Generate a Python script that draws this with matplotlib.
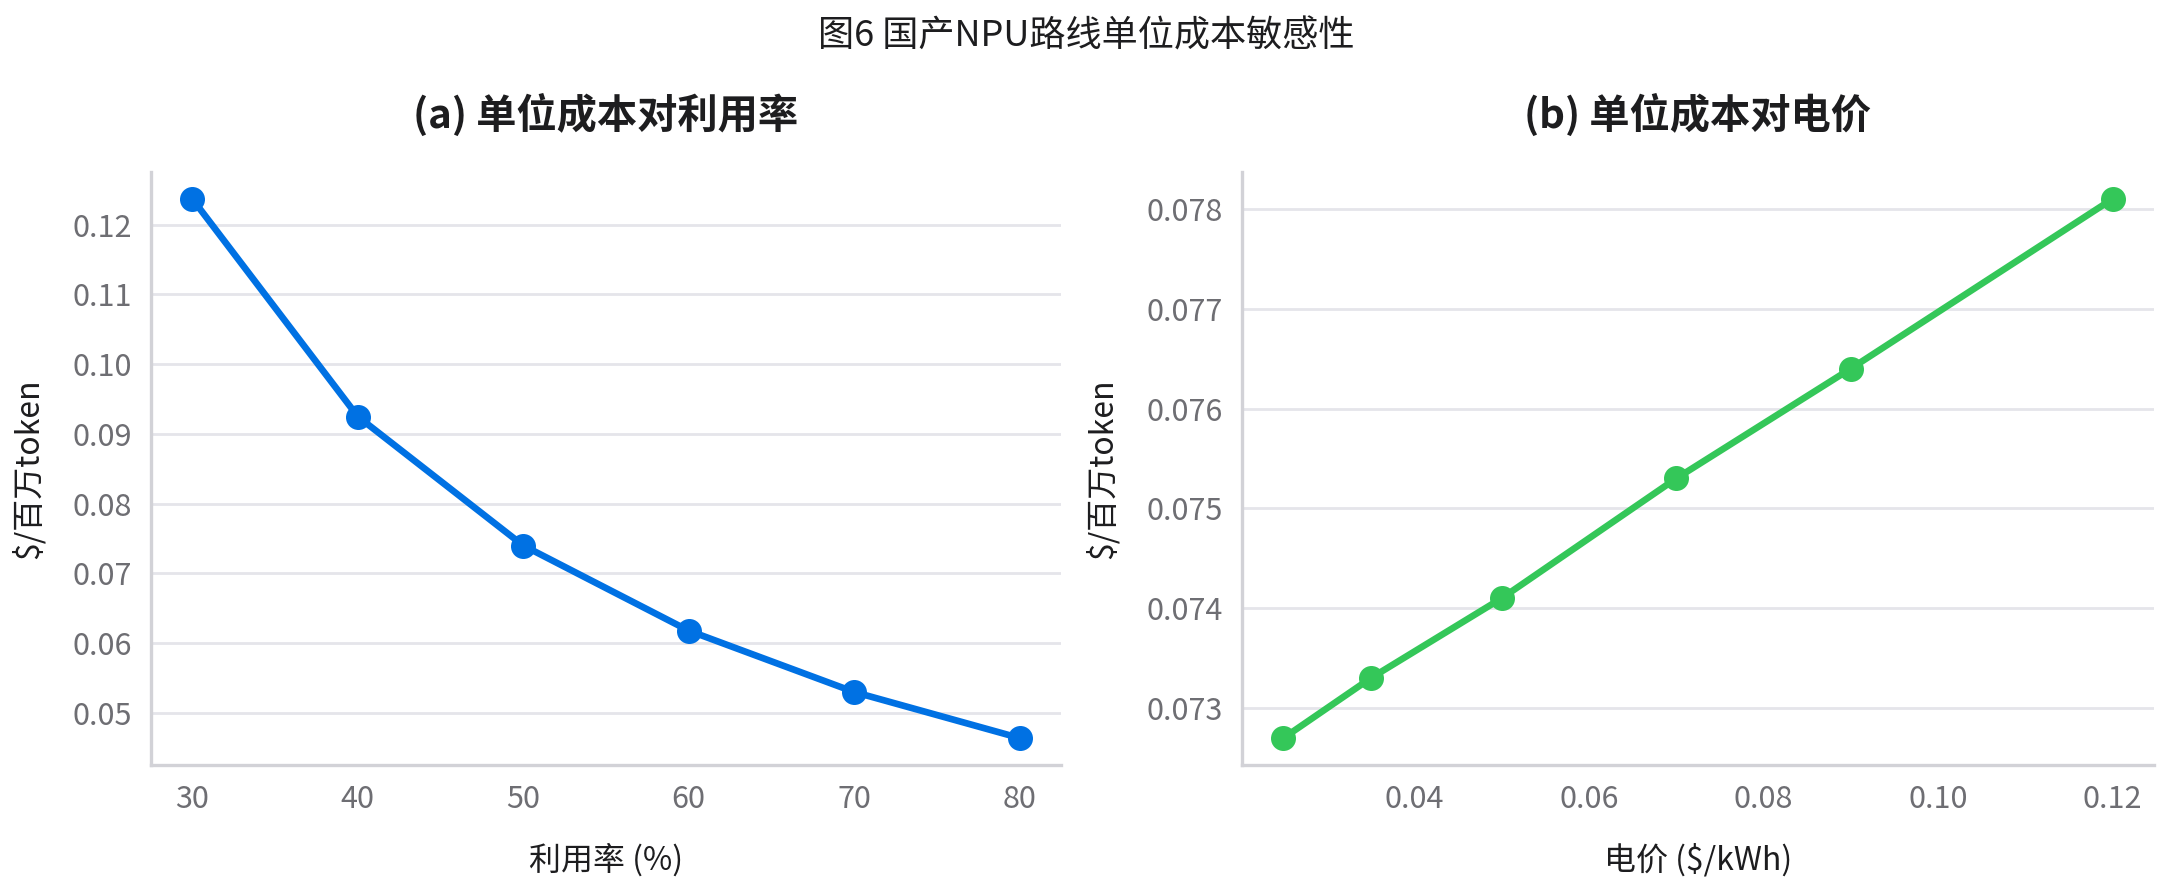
import numpy as np
import matplotlib
matplotlib.use('Agg')
import matplotlib.pyplot as plt

plt.rcParams['font.family'] = ['Noto Sans CJK SC', 'DejaVu Sans']

# (a) utilisation sensitivity
util = [30, 40, 50, 60, 70, 80]
cost_util = [0.1237, 0.0925, 0.0740, 0.0618, 0.0530, 0.0464]

# (b) electricity price sensitivity
price = [0.025, 0.035, 0.05, 0.07, 0.09, 0.12]
cost_price = [0.0727, 0.0733, 0.0741, 0.0753, 0.0764, 0.0781]

BLUE = '#0071e3'
GREEN = '#34c759'
TICK_C = '#6e6e73'
TEXT_C = '#1d1d1f'
GRID_C = '#e5e5ea'
SPINE_C = '#d2d2d7'

W, H = 2173, 891
fig = plt.figure(figsize=(W / 200, H / 200), dpi=200)
ax1 = fig.add_axes([151/W, 1-765/H, (1061-151)/W, (765-172)/H])
ax2 = fig.add_axes([1242/W, 1-765/H, (2154-1242)/W, (765-172)/H])


def style_ax(ax):
    for s in ['top', 'right']:
        ax.spines[s].set_visible(False)
    for s in ['left', 'bottom']:
        ax.spines[s].set_color(SPINE_C)
        ax.spines[s].set_linewidth(1.2)
    ax.grid(axis='y', color=GRID_C, linewidth=1.0)
    ax.set_axisbelow(True)
    ax.tick_params(length=0, labelsize=11, colors=TICK_C, pad=7)


ax1.plot(util, cost_util, color=BLUE, linewidth=2.4, marker='o', markersize=8)
style_ax(ax1)
ax1.set_yticks([0.05, 0.06, 0.07, 0.08, 0.09, 0.10, 0.11, 0.12])
ax1.set_yticklabels(['0.05', '0.06', '0.07', '0.08', '0.09', '0.10', '0.11', '0.12'])
ax1.set_xticks([30, 40, 50, 60, 70, 80])
ax1.set_xlabel('利用率 (%)', fontsize=11.5, color=TEXT_C, labelpad=10)
ax1.set_ylabel('$/百万token', fontsize=11.5, color=TEXT_C, labelpad=10)
ax1.set_title('(a) 单位成本对利用率', fontsize=14.5, fontweight='bold', color=TEXT_C, pad=16)

ax2.plot(price, cost_price, color=GREEN, linewidth=2.4, marker='o', markersize=8)
style_ax(ax2)
ax2.set_yticks([0.073, 0.074, 0.075, 0.076, 0.077, 0.078])
ax2.set_yticklabels(['0.073', '0.074', '0.075', '0.076', '0.077', '0.078'])
ax2.set_xticks([0.04, 0.06, 0.08, 0.10, 0.12])
ax2.set_xticklabels(['0.04', '0.06', '0.08', '0.10', '0.12'])
ax2.set_xlabel('电价 ($/kWh)', fontsize=11.5, color=TEXT_C, labelpad=10)
ax2.set_ylabel('$/百万token', fontsize=11.5, color=TEXT_C, labelpad=10)
ax2.set_title('(b) 单位成本对电价', fontsize=14.5, fontweight='bold', color=TEXT_C, pad=16)

fig.text(0.5, 1-37/H, '图6 国产NPU路线单位成本敏感性', ha='center', va='center',
         fontsize=13, color=TEXT_C)

fig.savefig('out.png', dpi=200, facecolor='white')
